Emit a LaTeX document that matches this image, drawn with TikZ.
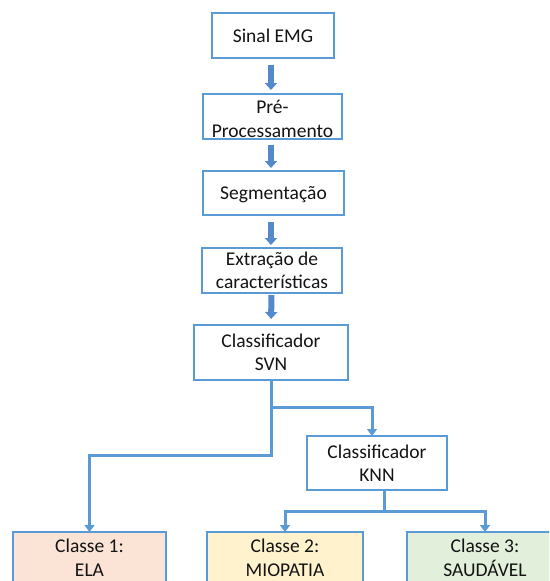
\documentclass[tikz,border=0pt]{standalone}
\usepackage{fontspec}
\setmainfont{Carlito}
\usetikzlibrary{arrows.meta,calc}
\definecolor{bordblue}{RGB}{91,155,213}
\definecolor{arrblue}{RGB}{84,138,204}
\definecolor{txt}{RGB}{20,20,20}
\definecolor{fillela}{RGB}{251,228,214}
\definecolor{fillmio}{RGB}{255,242,204}
\definecolor{fillsau}{RGB}{226,239,218}
\tikzset{
  box/.style={draw=bordblue, line width=1.6pt, fill=white, inner sep=0pt, outer sep=0pt,
    align=center, text=txt, font=\fontsize{19.5}{23.5}\selectfont},
  blockarr/.style={draw=arrblue, line width=6pt,
    -{Triangle[width=12pt,length=7pt]}},
  conn/.style={draw=bordblue, line width=3pt},
  connarr/.style={conn, -{Triangle[width=10pt,length=7pt]}},
}
\begin{document}
\begin{tikzpicture}[x=1pt,y=-1pt]
\useasboundingbox (0,0) rectangle (549,581);
\clip (0,0) rectangle (549,581);
\fill[white] (0,0) rectangle (549,581);

\node[box, minimum width=122pt, minimum height=45pt] (sinal) at (273,35.5) {Sinal EMG};
\node[box, minimum width=139pt, minimum height=45pt] (pre) at (272.5,116.5) {\rule{0pt}{18pt}Pré-\\Processamento};
\node[box, minimum width=141pt, minimum height=44pt, text depth=0pt] (seg) at (273.5,193) {Segmentação};
\node[box, minimum width=140pt, minimum height=45pt] (ext) at (272,270.5) {Extração de\\características};
\node[box, minimum width=154pt, minimum height=55pt] (svn) at (271,352.5) {Classificador\\SVN};
\node[box, minimum width=140pt, minimum height=54pt] (knn) at (377,463) {Classificador\\KNN};
\node[box, fill=fillela, minimum width=153pt, minimum height=51.5pt] (ela) at (89.5,557.75) {Classe 1:\\ELA};
\node[box, fill=fillmio, minimum width=156pt, minimum height=51.5pt] (mio) at (285,557.75) {Classe 2:\\MIOPATIA};
\node[box, fill=fillsau, minimum width=156pt, minimum height=51.5pt] (sau) at (485,557.75) {Classe 3:\\SAUDÁVEL};

\draw[blockarr, shorten <=7pt, shorten >=4pt] ([xshift=-2pt]sinal.south) -- ([xshift=-1.5pt]pre.north);
\draw[blockarr, shorten <=6pt, shorten >=3pt] ([xshift=-1.5pt]pre.south) -- ([xshift=-2.5pt]seg.north);
\draw[blockarr, shorten <=7pt, shorten >=3pt] ([xshift=-2.5pt]seg.south) -- ([xshift=-1pt]ext.north);
\draw[blockarr, shorten <=2pt, shorten >=6pt] ([xshift=-0.5pt]ext.south) -- (svn.north);

\coordinate (j1) at (271,407);
\coordinate (j1b) at (271,455);
\coordinate (j2) at (384,511);
\draw[connarr] (svn.south) -- (j1b) -| (ela.north);
\draw[connarr] (j1) -| ([xshift=-5pt]knn.north);
\draw[connarr] ([xshift=7pt]knn.south) -- (j2) -| (mio.north);
\draw[connarr] (j2) -| (sau.north);
\end{tikzpicture}
\end{document}
